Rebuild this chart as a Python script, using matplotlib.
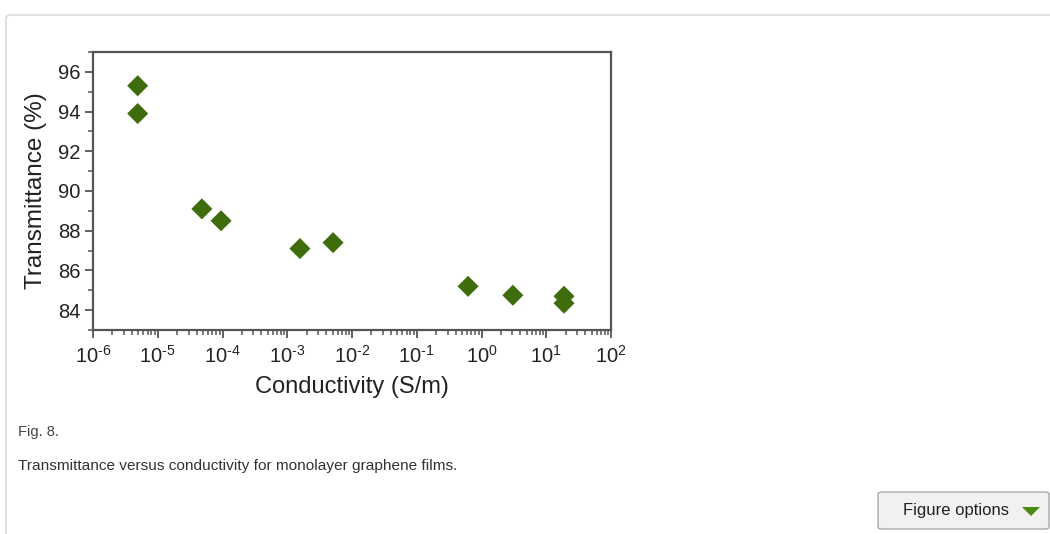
import matplotlib
matplotlib.use("Agg")
import matplotlib.pyplot as plt
from matplotlib.patches import FancyBboxPatch, Polygon
from matplotlib.ticker import LogLocator, MultipleLocator, NullFormatter, FuncFormatter
import numpy as np

plt.rcParams['font.family'] = ['Liberation Sans', 'DejaVu Sans']
plt.rcParams['mathtext.fontset'] = 'custom'
plt.rcParams['mathtext.rm'] = 'Liberation Sans'
plt.rcParams['mathtext.default'] = 'regular'

# Data
conductivity = [4.9e-6, 4.9e-6, 4.8e-5, 9.5e-5, 1.57e-3, 5.1e-3, 0.62, 3.05, 18.8, 18.8]
transmittance = [95.3, 93.9, 89.1, 88.5, 87.1, 87.4, 85.2, 84.75, 84.7, 84.35]
x_label = "Conductivity (S/m)"
y_label = "Transmittance (%)"
fig_label = "Fig. 8."
caption = "Transmittance versus conductivity for monolayer graphene films."
button_text = "Figure options"

fig = plt.figure(figsize=(10.5, 5.34), dpi=100)
W, H = 1050, 534

def fx(px):
    return px / W

def fy(py):
    return 1 - py / H

# Page panel border
panel = FancyBboxPatch((fx(6), fy(600)), fx(1200), fy(15) - fy(600),
                       boxstyle="round,pad=0,rounding_size=0.006",
                       transform=fig.transFigure, facecolor='none',
                       edgecolor='#d9d9d9', linewidth=1.2, zorder=-5)
fig.patches.append(panel)

ax = fig.add_axes([fx(93), fy(330), fx(611) - fx(93), fy(52) - fy(330)])
ax.scatter(conductivity, transmittance, marker='D', s=115, color='#3f6c0c',
           edgecolors='none', zorder=3, clip_on=False)
ax.set_xscale('log')
ax.set_xlim(1e-6, 1e2)
ax.set_ylim(83, 97)
ax.yaxis.set_major_locator(MultipleLocator(2))
ax.yaxis.set_minor_locator(MultipleLocator(1))
ax.xaxis.set_major_locator(LogLocator(base=10, numticks=20))
ax.xaxis.set_minor_locator(LogLocator(base=10, subs=np.arange(2, 10), numticks=20))
ax.xaxis.set_minor_formatter(NullFormatter())

def log_fmt(v, pos):
    e = int(round(np.log10(v)))
    if e < 0:
        return r'$10^{\text{-}%d}$' % (-e)
    return r'$10^{%d}$' % e

ax.xaxis.set_major_formatter(FuncFormatter(log_fmt))
for s in ax.spines.values():
    s.set_color('#555555')
    s.set_linewidth(1.6)
ax.tick_params(axis='both', which='major', direction='out', length=6, width=1.3,
               color='#555555', labelsize=14.5, labelcolor='#222222', pad=3)
ax.tick_params(axis='x', which='major', pad=5)
ax.tick_params(axis='both', which='minor', direction='out', length=3.5, width=1.1,
               color='#555555')
ax.tick_params(top=False, right=False)
ax.set_xlabel(x_label, fontsize=17, color='#222222', labelpad=6)
ax.set_ylabel(y_label, fontsize=17.5, color='#222222', labelpad=8)

# Caption
fig.text(fx(18), fy(432), fig_label, fontsize=10.5, color='#444444', va='center', ha='left')
fig.text(fx(18), fy(466), caption, fontsize=11.1, color='#333333', va='center', ha='left')

# Button
btn = FancyBboxPatch((fx(878), fy(529)), fx(1049) - fx(878), fy(492) - fy(529),
                     boxstyle="round,pad=0,rounding_size=0.004",
                     transform=fig.transFigure, facecolor='#f1f1f1',
                     edgecolor='#a9a9a9', linewidth=1.0, zorder=2)
fig.patches.append(btn)
fig.text(fx(956), fy(511), button_text, fontsize=12, color='#222222',
         va='center', ha='center', zorder=3)
tri = Polygon([[fx(1022), fy(507)], [fx(1040), fy(507)], [fx(1031), fy(516)]],
              closed=True, transform=fig.transFigure, facecolor='#4a8a12',
              edgecolor='none', zorder=3)
fig.patches.append(tri)

fig.savefig('out.png', dpi=100, facecolor='white')
